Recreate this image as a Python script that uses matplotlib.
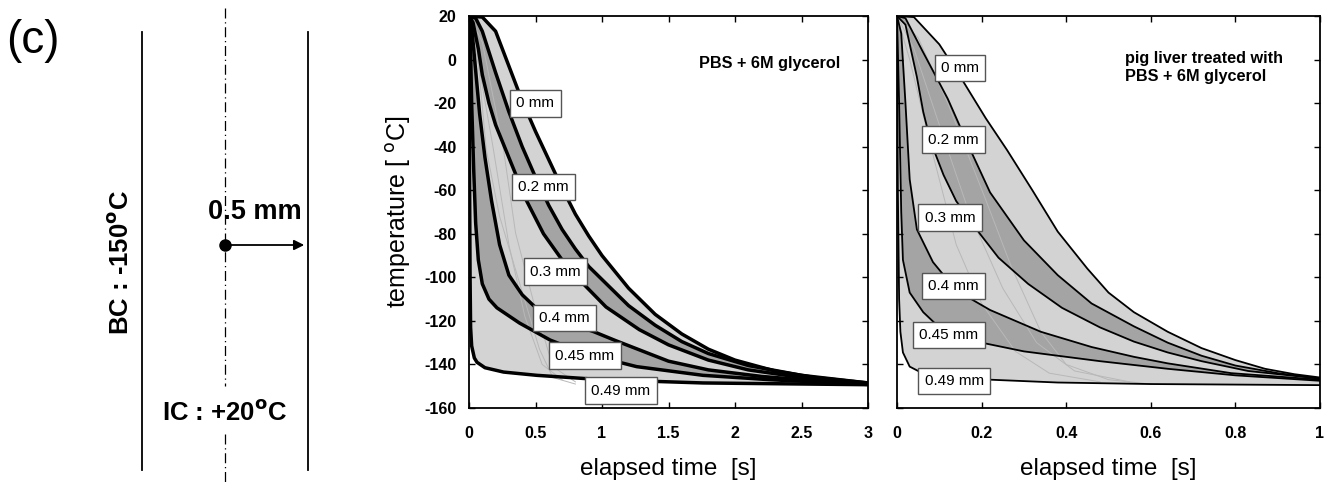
import matplotlib
matplotlib.use("Agg")
import matplotlib.pyplot as plt
from matplotlib.patches import Polygon
import numpy as np

plt.rcParams['font.family'] = ['Liberation Sans', 'DejaVu Sans']

# ---------------- data ----------------
depth_labels = ["0 mm", "0.2 mm", "0.3 mm", "0.4 mm", "0.45 mm", "0.49 mm"]

# Panel 1: PBS + 6M glycerol (time in s, temperature in degC)
p1_t0 = [0, 0.1, 0.2, 0.3, 0.4, 0.5, 0.6, 0.7, 0.8, 0.9, 1.0, 1.2, 1.4, 1.6, 1.8, 2.0, 2.3, 2.6, 3.0]
p1_T0 = [20, 19.5, 13, -3, -19, -33, -46, -59, -71, -81, -90, -105, -117, -126, -133, -138, -143, -146, -148.5]
p1_t2 = [0, 0.05, 0.1, 0.2, 0.3, 0.4, 0.5, 0.6, 0.7, 0.8, 0.9, 1.0, 1.2, 1.4, 1.6, 1.8, 2.1, 2.5, 3.0]
p1_T2 = [20, 19, 13, -6, -24, -40, -54, -67, -78, -87, -95, -101, -113, -122, -129.5, -135, -140.5, -145, -148.5]
p1_t3 = [0, 0.03, 0.07, 0.1, 0.15, 0.2, 0.3, 0.43, 0.56, 0.7, 0.86, 1.03, 1.28, 1.5, 1.8, 2.1, 2.5, 3.0]
p1_T3 = [20, 17, 5, -7, -20, -30, -45, -64.5, -80, -92, -103, -113.6, -124, -131, -138, -142.5, -146, -148.8]
p1_t4 = [0, 0.02, 0.05, 0.08, 0.12, 0.17, 0.23, 0.3, 0.4, 0.52, 0.7, 0.94, 1.1, 1.5, 1.8, 2.2, 2.6, 3.0]
p1_T4 = [20, 15, -5, -25, -45, -65, -85, -99, -108, -115, -120, -125, -129, -138.5, -142.5, -145.5, -147.5, -149]
p1_t45 = [0, 0.01, 0.02, 0.035, 0.05, 0.07, 0.1, 0.15, 0.21, 0.38, 0.61, 0.87, 1.26, 1.76, 2.26, 3.0]
p1_T45 = [20, 10, -20, -50, -75, -92, -103, -110, -114, -121, -128.8, -135, -141, -145, -147, -149.2]
p1_t49 = [0, 0.003, 0.008, 0.012, 0.02, 0.04, 0.06, 0.12, 0.26, 0.51, 1.0, 1.76, 3.0]
p1_T49 = [20, -40, -100, -123, -131.5, -137, -139, -141.5, -143.5, -145, -147, -148.5, -149.3]

# thin grey measured traces, panel 1
p1_thin_t = [[0.0, 0.06, 0.13, 0.23, 0.38, 0.53, 0.63, 0.8],
             [0.0, 0.1, 0.26, 0.35, 0.48, 0.63, 0.8],
             [0.0, 0.08, 0.18, 0.3, 0.42, 0.55, 0.7]]
p1_thin_T = [[20, 5, -41.5, -72, -102.6, -133, -146, -149],
             [20, 8, -41.5, -79.6, -110, -141, -148],
             [20, -5, -40, -85, -118, -140, -147]]

# Panel 2: pig liver treated with PBS + 6M glycerol
p2_t0 = [0, 0.04, 0.1, 0.15, 0.21, 0.26, 0.32, 0.38, 0.45, 0.5, 0.56, 0.64, 0.72, 0.8, 0.87, 0.94, 1.0]
p2_T0 = [20, 19.5, 7, -8, -27, -41.5, -60, -79, -96, -107, -116, -125, -132.5, -138, -142, -144.5, -146]
p2_t2 = [0, 0.02, 0.06, 0.12, 0.17, 0.22, 0.3, 0.38, 0.46, 0.56, 0.64, 0.72, 0.8, 0.9, 1.0]
p2_T2 = [20, 19, 4, -18, -40, -61, -83, -99, -112, -122.5, -130, -136, -140.5, -144, -146.5]
p2_t3 = [0, 0.02, 0.047, 0.062, 0.08, 0.11, 0.14, 0.196, 0.24, 0.31, 0.39, 0.48, 0.56, 0.64, 0.72, 0.83, 1.0]
p2_T3 = [20, 16, -8, -24, -38, -53, -65, -80, -91, -103, -114, -123, -129.5, -134.5, -138.5, -143, -146.5]
p2_t4 = [0, 0.01, 0.02, 0.03, 0.047, 0.085, 0.14, 0.22, 0.34, 0.46, 0.56, 0.64, 0.79, 1.0]
p2_T4 = [20, 12, -20, -55, -78, -93, -106, -115, -125, -132, -136.5, -139.5, -144, -147]
p2_t45 = [0, 0.005, 0.01, 0.014, 0.03, 0.062, 0.1, 0.2, 0.3, 0.48, 0.64, 0.8, 1.0]
p2_T45 = [20, -20, -70, -92, -107, -116, -123, -130, -134, -138.5, -142, -145, -147.5]
p2_t49 = [0, 0.002, 0.005, 0.008, 0.014, 0.03, 0.06, 0.12, 0.22, 0.38, 0.6, 1.0]
p2_T49 = [20, -60, -110, -125, -134.5, -141, -144, -145.5, -147, -148.3, -149, -149.5]

p2_thin_t = [[0.0, 0.05, 0.12, 0.21, 0.27, 0.34, 0.4, 0.5, 0.6],
             [0.0, 0.04, 0.1, 0.17, 0.25, 0.33, 0.42, 0.55],
             [0.0, 0.03, 0.08, 0.14, 0.2, 0.28, 0.36, 0.48]]
p2_thin_T = [[20, 10, -20, -64.5, -95, -125, -140, -147, -149],
             [20, 5, -30, -70, -105, -130, -143, -148],
             [20, 0, -40, -85, -112, -134, -144, -148]]

# label anchor points (time, temperature) of the boxes
p1_lab_t = [0.5, 0.56, 0.65, 0.72, 0.87, 1.14]
p1_lab_T = [-20, -58.5, -97.5, -118.7, -136, -152]
p2_lab_t = [0.149, 0.133, 0.125, 0.133, 0.123, 0.135]
p2_lab_T = [-3.9, -36.9, -72.7, -104, -126.5, -147.6]

p1_title = "PBS + 6M glycerol"
p2_title = "pig liver treated with\nPBS + 6M glycerol"

p1_xticks = [0, 0.5, 1, 1.5, 2, 2.5, 3]
p1_xticklabels = ["0", "0.5", "1", "1.5", "2", "2.5", "3"]
p2_xticks = [0, 0.2, 0.4, 0.6, 0.8, 1.0]
p2_xticklabels = ["0", "0.2", "0.4", "0.6", "0.8", "1"]
yticks = [20, 0, -20, -40, -60, -80, -100, -120, -140, -160]

LIGHT = "#d3d3d3"
DARK = "#a4a4a4"

W, H = 1332, 487
fig = plt.figure(figsize=(W / 100, H / 100), dpi=100)

# ---------------- schematic on the left ----------------
ax0 = fig.add_axes([0, 0, 1, 1])
ax0.set_xlim(0, W)
ax0.set_ylim(H, 0)
ax0.axis("off")
ax0.plot([142, 142], [32, 470], color="black", lw=1.3)
ax0.plot([308, 308], [32, 470], color="black", lw=1.3)
ax0.plot([225, 225], [8, 386], color="black", lw=0.9, ls=(0, (8, 3, 1, 3)))
ax0.plot([225, 225], [434, 482], color="black", lw=0.9, ls=(0, (8, 3, 1, 3)))
ax0.plot([225], [245], "o", color="black", ms=8)
ax0.annotate("", xy=(307, 245), xytext=(225, 245),
             arrowprops=dict(arrowstyle="-|>", color="black", lw=1.3, mutation_scale=15))
ax0.text(255, 212, "0.5 mm", fontsize=19.5, fontweight="bold", ha="center", va="center")
ax0.text(225, 412, r"IC : +20$^{\mathbf{o}}$C", fontsize=18.5, fontweight="bold", ha="center", va="center")
ax0.text(120, 263, r"BC : -150$^{\mathbf{o}}$C", fontsize=18.5, fontweight="bold", ha="center",
         va="center", rotation=90)
ax0.text(6, 41, "(c)", fontsize=33, ha="left", va="center")


def draw_panel(ax, curves, thin_t, thin_T, lab_t, lab_T, lw, xlim, xticks, xticklabels):
    # bands between consecutive depth curves
    for i in range(len(curves) - 1):
        ta, Ta = curves[i]
        tb, Tb = curves[i + 1]
        xs = list(ta) + list(tb)[::-1]
        ys = list(Ta) + list(Tb)[::-1]
        ax.add_patch(Polygon(np.column_stack([xs, ys]), closed=True,
                             facecolor=LIGHT if i % 2 == 0 else DARK,
                             edgecolor="none", zorder=1))
    for tt, TT in zip(thin_t, thin_T):
        ax.plot(tt, TT, color="#b8b8b8", lw=0.7, zorder=2)
    for tt, TT in curves:
        ax.plot(tt, TT, color="black", lw=lw, zorder=3, solid_capstyle="butt")
    for lbl, lt, lT in zip(depth_labels, lab_t, lab_T):
        ax.text(lt, lT, lbl, fontsize=11, ha="center", va="center", zorder=5,
                bbox=dict(boxstyle="square,pad=0.42", facecolor="white", edgecolor="#555555", lw=1))
    ax.set_xlim(*xlim)
    ax.set_ylim(-160, 20)
    ax.set_xticks(xticks)
    ax.set_xticklabels(xticklabels, fontsize=11.5, fontweight="bold")
    ax.set_yticks(yticks)
    ax.tick_params(direction="in", length=4, width=1, top=True, right=True)
    ax.tick_params(axis="x", pad=13)
    ax.tick_params(axis="y", pad=9)
    for s in ax.spines.values():
        s.set_linewidth(1.3)
    ax.set_xlabel("elapsed time  [s]", fontsize=17.5, labelpad=12)


curves1 = [(p1_t0, p1_T0), (p1_t2, p1_T2), (p1_t3, p1_T3),
           (p1_t4, p1_T4), (p1_t45, p1_T45), (p1_t49, p1_T49)]
curves2 = [(p2_t0, p2_T0), (p2_t2, p2_T2), (p2_t3, p2_T3),
           (p2_t4, p2_T4), (p2_t45, p2_T45), (p2_t49, p2_T49)]

ax1 = fig.add_axes([469 / W, 1 - 408 / H, 399 / W, 392 / H])
draw_panel(ax1, curves1, p1_thin_t, p1_thin_T, p1_lab_t, p1_lab_T, 2.5, (0, 3),
           p1_xticks, p1_xticklabels)
ax1.set_yticklabels([str(v) for v in yticks], fontsize=11.5, fontweight="bold")
ax1.set_ylabel(r"temperature [ $^{\rm o}$C]", fontsize=18, labelpad=8)
ax1.text(0.93, 0.88, p1_title, transform=ax1.transAxes, fontsize=11.7, fontweight="bold",
         ha="right", va="center")

ax2 = fig.add_axes([897 / W, 1 - 408 / H, 423 / W, 392 / H])
draw_panel(ax2, curves2, p2_thin_t, p2_thin_T, p2_lab_t, p2_lab_T, 1.3, (0, 1),
           p2_xticks, p2_xticklabels)
ax2.set_yticklabels([])
ax2.text(0.538, 0.869, p2_title, transform=ax2.transAxes, fontsize=11.7, fontweight="bold",
         ha="left", va="center", linespacing=1.2)

fig.savefig("out.png", dpi=100)
